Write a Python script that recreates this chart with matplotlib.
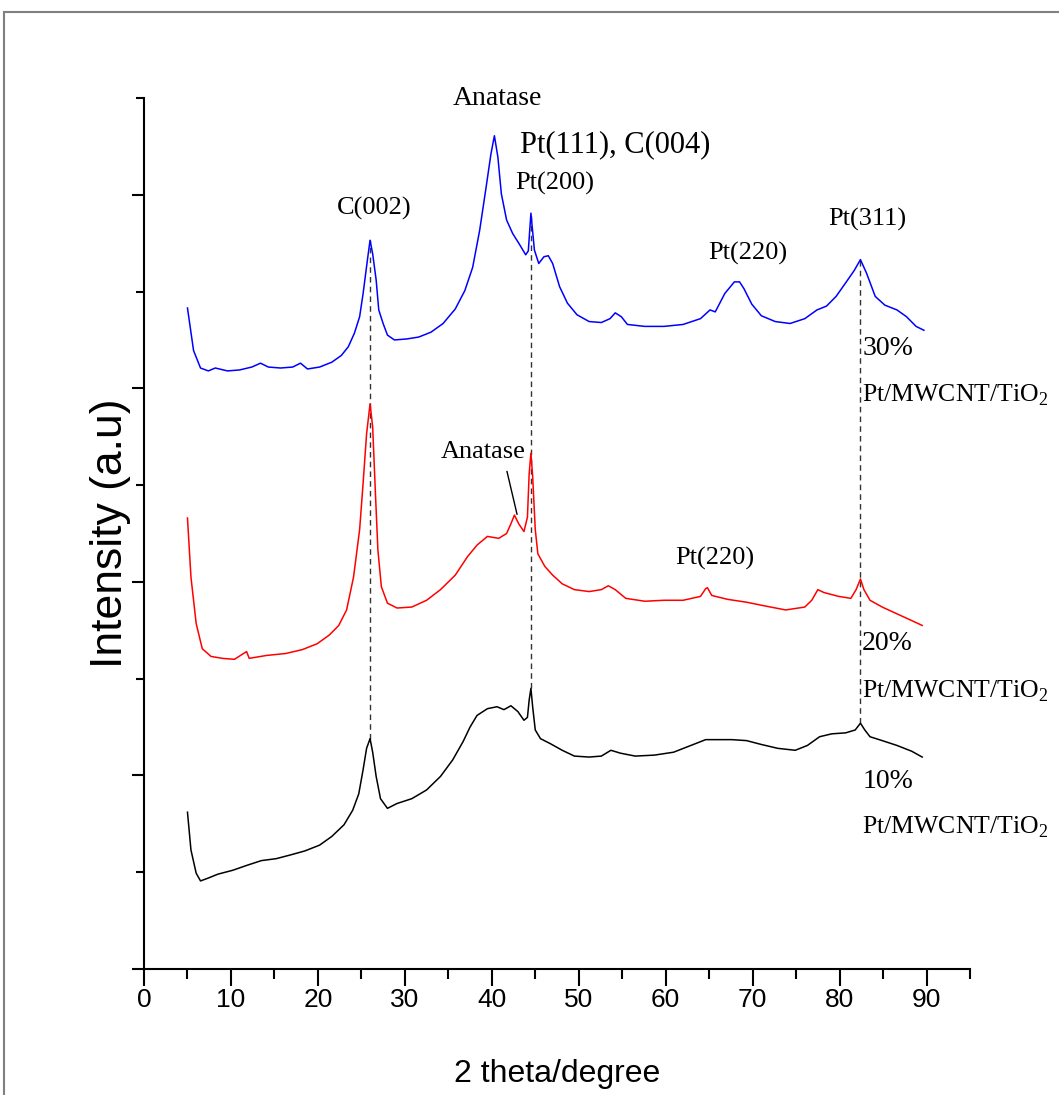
import matplotlib
matplotlib.use("Agg")
import matplotlib.pyplot as plt
from matplotlib.lines import Line2D
from matplotlib.ticker import MultipleLocator, NullFormatter

plt.rcParams["mathtext.fontset"] = "custom"
plt.rcParams["mathtext.rm"] = "Liberation Serif"

# ---- XRD patterns (2 theta in degrees, intensity in offset arbitrary units) ----
tt_30 = [5.0, 5.7, 6.5, 7.4, 8.2, 9.6, 11.0, 12.4, 13.4, 14.3, 15.7, 17.1, 18.0, 18.8,
         20.2, 21.6, 22.7, 23.5, 24.2, 24.8, 25.2, 25.7, 26.0, 26.3, 26.7, 27.0, 27.5,
         28.0, 28.8, 30.2, 31.6, 33.0, 34.4, 35.8, 36.9, 37.8, 38.6, 39.3, 39.9, 40.3,
         40.7, 41.1, 41.7, 42.4, 43.1, 43.9, 44.2, 44.5, 44.9, 45.4, 46.0, 46.5, 47.0,
         47.8, 48.7, 49.8, 51.2, 52.6, 53.6, 54.2, 54.9, 55.6, 57.6, 59.8, 62.0, 64.0,
         65.1, 65.7, 66.8, 67.9, 68.5, 69.0, 69.9, 71.0, 72.6, 74.3, 76.0, 77.4, 78.5,
         79.6, 80.7, 81.7, 82.4, 83.1, 84.1, 85.2, 86.6, 87.7, 88.8, 89.7]
int_30 = [6.83, 6.39, 6.21, 6.18, 6.21, 6.18, 6.19, 6.22, 6.26, 6.22, 6.21, 6.22, 6.26,
          6.20, 6.22, 6.27, 6.34, 6.43, 6.57, 6.74, 6.98, 7.33, 7.53, 7.39, 7.12, 6.81,
          6.67, 6.55, 6.50, 6.51, 6.53, 6.58, 6.67, 6.82, 7.01, 7.25, 7.63, 8.05, 8.42,
          8.61, 8.39, 8.01, 7.74, 7.60, 7.50, 7.38, 7.42, 7.81, 7.43, 7.29, 7.36, 7.37,
          7.29, 7.05, 6.88, 6.76, 6.69, 6.68, 6.72, 6.78, 6.74, 6.66, 6.64, 6.64, 6.66,
          6.72, 6.81, 6.79, 6.98, 7.10, 7.10, 7.03, 6.87, 6.75, 6.69, 6.67, 6.72, 6.81,
          6.85, 6.95, 7.09, 7.22, 7.33, 7.19, 6.95, 6.86, 6.81, 6.74, 6.64, 6.60]

tt_20 = [5.0, 5.4, 6.0, 6.7, 7.7, 9.0, 10.4, 11.8, 12.1, 14.1, 16.3, 18.2, 19.9, 21.3,
         22.4, 23.3, 24.1, 24.8, 25.2, 25.6, 26.0, 26.3, 26.6, 26.9, 27.3, 28.0, 29.1,
         30.8, 32.5, 34.1, 35.8, 37.2, 38.3, 39.5, 40.8, 41.7, 42.2, 42.6, 43.1, 43.7,
         44.1, 44.3, 44.5, 44.7, 45.0, 45.3, 46.1, 47.0, 48.1, 49.5, 51.2, 52.6, 53.4,
         54.2, 55.4, 57.6, 59.8, 62.0, 64.0, 64.6, 64.8, 65.3, 67.1, 69.3, 71.5, 73.8,
         76.0, 76.8, 77.5, 78.2, 79.9, 81.3, 81.9, 82.4, 82.8, 83.5, 84.9, 86.6, 88.3,
         89.5]
int_20 = [4.66, 4.05, 3.57, 3.31, 3.23, 3.21, 3.20, 3.28, 3.21, 3.24, 3.26, 3.30, 3.36,
          3.45, 3.55, 3.71, 4.05, 4.54, 5.02, 5.53, 5.84, 5.60, 4.95, 4.33, 3.95, 3.78,
          3.73, 3.74, 3.81, 3.92, 4.07, 4.26, 4.38, 4.47, 4.45, 4.50, 4.60, 4.69, 4.60,
          4.52, 4.67, 5.12, 5.33, 5.09, 4.54, 4.29, 4.16, 4.07, 3.98, 3.92, 3.90, 3.92,
          3.96, 3.92, 3.83, 3.80, 3.81, 3.81, 3.85, 3.93, 3.94, 3.86, 3.82, 3.79, 3.75,
          3.71, 3.74, 3.81, 3.92, 3.89, 3.85, 3.83, 3.92, 4.03, 3.92, 3.81, 3.74, 3.67,
          3.60, 3.55]

tt_10 = [5.0, 5.4, 6.0, 6.5, 7.4, 8.5, 10.2, 11.8, 13.5, 15.2, 16.9, 18.5, 20.2, 21.6,
         23.0, 24.0, 24.7, 25.2, 25.6, 26.0, 26.3, 26.7, 27.2, 28.0, 29.1, 30.8, 32.5,
         34.1, 35.5, 36.7, 37.5, 38.3, 39.5, 40.6, 41.4, 42.2, 43.0, 43.7, 44.1, 44.3,
         44.5, 44.7, 45.0, 45.6, 46.7, 48.1, 49.5, 51.2, 52.6, 53.7, 54.8, 56.5, 58.7,
         60.9, 62.9, 64.6, 66.0, 67.6, 69.3, 71.0, 72.9, 74.9, 76.3, 77.7, 79.1, 80.7,
         81.8, 82.4, 82.9, 83.5, 84.9, 86.6, 88.3, 89.5]
int_10 = [1.62, 1.23, 0.99, 0.91, 0.94, 0.98, 1.02, 1.07, 1.12, 1.14, 1.18, 1.22, 1.28,
          1.37, 1.49, 1.64, 1.81, 2.06, 2.28, 2.38, 2.24, 1.99, 1.76, 1.66, 1.71, 1.76,
          1.85, 1.99, 2.16, 2.35, 2.50, 2.62, 2.69, 2.71, 2.68, 2.72, 2.66, 2.57, 2.60,
          2.78, 2.90, 2.71, 2.47, 2.38, 2.33, 2.26, 2.20, 2.19, 2.20, 2.26, 2.23, 2.20,
          2.21, 2.24, 2.31, 2.37, 2.37, 2.37, 2.36, 2.32, 2.28, 2.26, 2.31, 2.40, 2.43,
          2.44, 2.47, 2.54, 2.47, 2.40, 2.36, 2.31, 2.25, 2.19]

# reflections marked through all three patterns
ref_positions = [26.0, 44.5, 82.4]

x_ticks = [0, 10, 20, 30, 40, 50, 60, 70, 80, 90]

fig = plt.figure(figsize=(10.59, 10.95), dpi=100)
ax = fig.add_axes([144 / 1059, 126 / 1095, 826 / 1059, 871 / 1095])

ax.plot(tt_30, int_30, color="#0000ff", lw=1.1)
ax.plot(tt_20, int_20, color="#ff0000", lw=1.1)
ax.plot(tt_10, int_10, color="#000000", lw=1.1)

# dashed guides from the lowest pattern's peak up to the top pattern's peak
for pos in ref_positions:
    top = max(y for x, y in zip(tt_30, int_30) if abs(x - pos) < 0.35)
    bottom = max(y for x, y in zip(tt_10, int_10) if abs(x - pos) < 0.35)
    ax.plot([pos, pos], [bottom, top], color="#333333", lw=1.0,
            ls=(0, (4, 3)), zorder=1)

ax.set_xlim(0, 95)
ax.set_ylim(0, 9)
ax.set_xticks(x_ticks)
ax.xaxis.set_minor_locator(MultipleLocator(5))
ax.yaxis.set_major_locator(MultipleLocator(2))
ax.yaxis.set_minor_locator(MultipleLocator(1))
ax.yaxis.set_major_formatter(NullFormatter())

for side in ("top", "right"):
    ax.spines[side].set_visible(False)
for side in ("left", "bottom"):
    ax.spines[side].set_linewidth(1.5)

ax.tick_params(axis="x", which="major", direction="out", length=12, width=1.5,
               pad=1.5, labelsize=19)
ax.tick_params(axis="x", which="minor", direction="out", length=7, width=1.5)
ax.tick_params(axis="y", which="major", direction="out", length=9, width=1.5)
ax.tick_params(axis="y", which="minor", direction="out", length=5.5, width=1.5)
for lab in ax.get_xticklabels():
    lab.set_family("Liberation Sans")

ax.set_xlabel("2 theta/degree", family="Liberation Sans", fontsize=23, labelpad=34)
ax.set_ylabel("Intensity (a.u)", family="Liberation Sans", fontsize=32, labelpad=-3)

serif = "Liberation Serif"
ann = dict(family=serif, ha="center", va="center", color="black")
ax.text(40.7, 8.99, "Anatase", fontsize=20, clip_on=False, **ann)
ax.text(54.2, 8.52, "Pt(111), C(004)", fontsize=22, **ann)
ax.text(47.2, 8.12, "Pt(200)", fontsize=19, **ann)
ax.text(26.5, 7.86, "C(002)", fontsize=19, **ann)
ax.text(69.4, 7.39, "Pt(220)", fontsize=19, **ann)
ax.text(83.2, 7.75, "Pt(311)", fontsize=19, **ann)
ax.text(65.6, 4.24, "Pt(220)", fontsize=19, **ann)
ax.text(39.0, 5.34, "Anatase", fontsize=19, **ann)
ax.plot([41.75, 42.9], [5.14, 4.70], color="black", lw=1.0)

samples = [("30%", 6.34, 5.86), ("20%", 3.30, 2.81), ("10%", 1.87, 1.40)]
for pct, y_pct, y_name in samples:
    ax.text(82.6, y_pct, pct, family=serif, fontsize=20, ha="left",
            va="baseline", clip_on=False)
    ax.text(82.6, y_name, r"Pt/MWCNT/TiO$_\mathregular{2}$", family=serif,
            fontsize=18.5, ha="left", va="baseline", clip_on=False)

# thin outer frame
fig.add_artist(Line2D([4 / 1059, 1.0], [1 - 12 / 1095, 1 - 12 / 1095],
                      transform=fig.transFigure, color="#808080", lw=1.5))
fig.add_artist(Line2D([4 / 1059, 4 / 1059], [0.0, 1 - 12 / 1095],
                      transform=fig.transFigure, color="#808080", lw=1.5))

fig.savefig("out.png", dpi=100)
